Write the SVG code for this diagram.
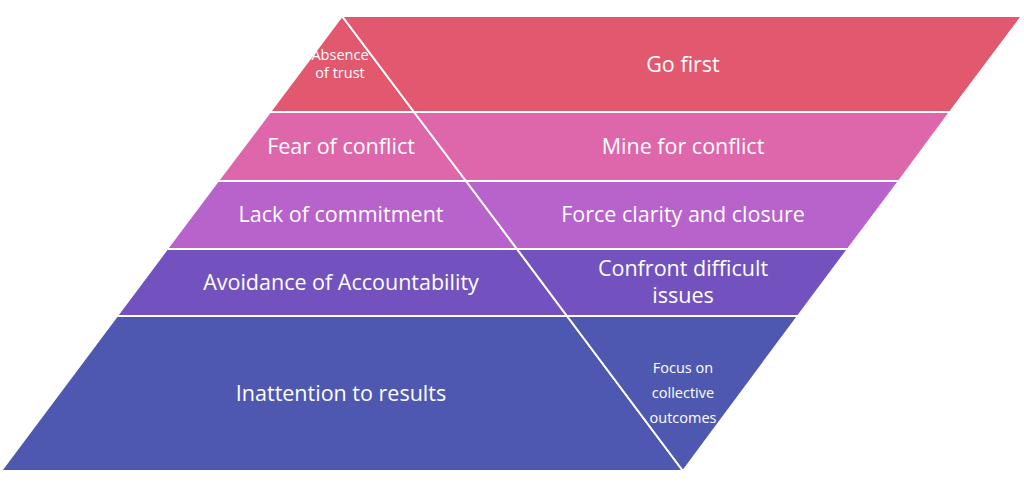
<svg xmlns="http://www.w3.org/2000/svg" width="1024" height="484" viewBox="0 0 1024 484">
<style>
.b{stroke:#fff;stroke-width:2;stroke-linejoin:round}
.t{font-family:"Open Sans","DejaVu Sans",sans-serif;fill:#fff;text-anchor:middle;font-size:21.5px}
.s{font-size:14.5px}
.c1{fill:#E2596F}.c2{fill:#DE67AC}.c3{fill:#B862CB}.c4{fill:#7352BF}.c5{fill:#4F58B1}
</style>
<rect width="1024" height="484" fill="#fff"/>
<g id="absence-of-trust">
<polygon class="b c1" points="342,16 270,112 414,112"/>
<text class="t s" x="340" y="60">Absence</text>
<text class="t s" x="340" y="78">of trust</text>
</g>
<g id="go-first">
<polygon class="b c1" points="342,16 1022,16 950,112 414,112"/>
<text class="t" x="683" y="72">Go first</text>
</g>
<g id="fear-of-conflict">
<polygon class="b c2" points="270,112 414,112 466,181 218,181"/>
<text class="t" x="341" y="154">Fear of conflict</text>
</g>
<g id="mine-for-conflict">
<polygon class="b c2" points="414,112 950,112 899,181 466,181"/>
<text class="t" x="683" y="154">Mine for conflict</text>
</g>
<g id="lack-of-commitment">
<polygon class="b c3" points="218,181 466,181 517,249 167,249"/>
<text class="t" x="341" y="222">Lack of commitment</text>
</g>
<g id="force-clarity">
<polygon class="b c3" points="466,181 899,181 848,249 517,249"/>
<text class="t" x="683" y="222">Force clarity and closure</text>
</g>
<g id="avoidance-of-accountability">
<polygon class="b c4" points="167,249 517,249 567,316 117,316"/>
<text class="t" x="341" y="290">Avoidance of Accountability</text>
</g>
<g id="confront-difficult-issues">
<polygon class="b c4" points="517,249 848,249 798,316 567,316"/>
<text class="t" x="683" y="276">Confront difficult</text>
<text class="t" x="683" y="303">issues</text>
</g>
<g id="inattention-to-results">
<polygon class="b c5" points="117,316 567,316 683,471 1,471"/>
<text class="t" x="341" y="401">Inattention to results</text>
</g>
<g id="focus-on-collective-outcomes">
<polygon class="b c5" points="567,316 798,316 683,471"/>
<text class="t s" x="683" y="373">Focus on</text>
<text class="t s" x="683" y="398">collective</text>
<text class="t s" x="683" y="423">outcomes</text>
</g>
<g id="connectors"></g>
</svg>
